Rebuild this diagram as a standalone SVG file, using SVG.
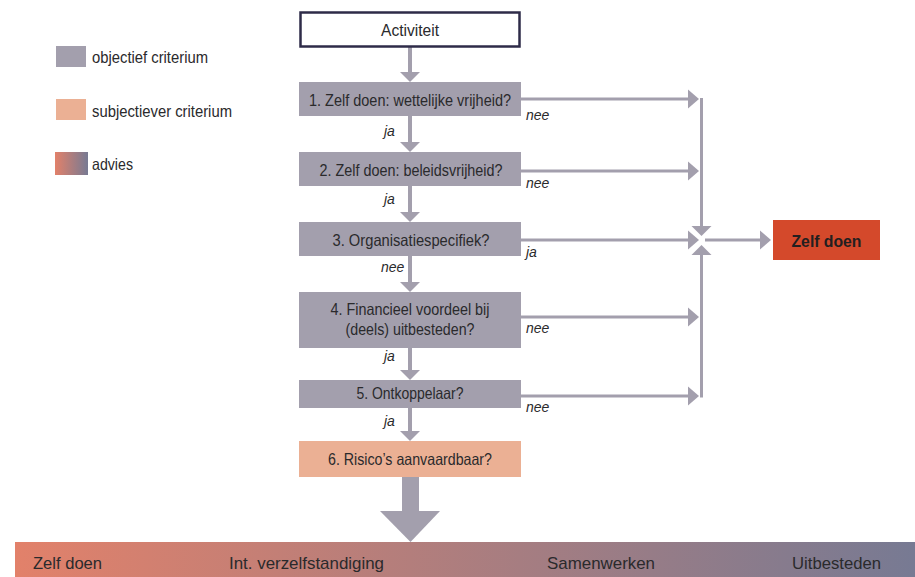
<svg xmlns="http://www.w3.org/2000/svg" width="915" height="577" viewBox="0 0 915 577">
<style>
.t{font-family:"Liberation Sans",Arial,sans-serif;font-size:16.5px;fill:#2a2a2c}
.c{text-anchor:middle}
.lb{font-family:"Liberation Sans",Arial,sans-serif;font-size:14px;font-style:italic;fill:#2a2a2c}
.obj{fill:#a39fad}
.sub{fill:#ebb094}
.ln{stroke:#a39fad;stroke-width:3;fill:none}
.sh{stroke:#a39fad;stroke-width:4;fill:none}
.ah{fill:#a39fad}
.bt{font-family:"Liberation Sans",Arial,sans-serif;font-size:17px;fill:#2a2a2c}
</style>
<defs>
<linearGradient id="adv" x1="0" y1="0" x2="1" y2="0">
<stop offset="0" stop-color="#e2816a"/>
<stop offset="1" stop-color="#777a93"/>
</linearGradient>
</defs>
<rect width="915" height="577" fill="#ffffff"/>

<g id="legend">
<rect x="56" y="46" width="30" height="21" class="obj"/>
<text x="92" y="63" class="t" textLength="116" lengthAdjust="spacingAndGlyphs">objectief criterium</text>
<rect x="56" y="99" width="30" height="21" class="sub"/>
<text x="92" y="117" class="t" textLength="140" lengthAdjust="spacingAndGlyphs">subjectiever criterium</text>
<rect x="55" y="152" width="33" height="23" fill="url(#adv)"/>
<text x="92" y="170" class="t" textLength="41" lengthAdjust="spacingAndGlyphs">advies</text>
</g>

<g id="connectors">
<line x1="410" y1="47" x2="410" y2="73" class="sh"/>
<polygon points="400,72 420,72 410,82" class="ah"/>
<line x1="410" y1="116" x2="410" y2="143" class="sh"/>
<polygon points="400,142 420,142 410,152" class="ah"/>
<line x1="410" y1="186" x2="410" y2="213" class="sh"/>
<polygon points="400,212 420,212 410,222" class="ah"/>
<line x1="410" y1="256" x2="410" y2="283" class="sh"/>
<polygon points="400,282 420,282 410,292" class="ah"/>
<line x1="410" y1="348" x2="410" y2="371" class="sh"/>
<polygon points="400,370 420,370 410,380" class="ah"/>
<line x1="410" y1="408" x2="410" y2="432" class="sh"/>
<polygon points="400,431 420,431 410,441" class="ah"/>
<rect x="402" y="477" width="17" height="35" class="ah"/>
<polygon points="380,511 440,511 410.5,542" class="ah"/>

<line x1="521" y1="99" x2="689" y2="99" class="ln"/>
<polygon points="688,89.5 688,108.5 699,99" class="ah"/>
<line x1="521" y1="171" x2="689" y2="171" class="ln"/>
<polygon points="688,161.5 688,180.5 699,171" class="ah"/>
<line x1="521" y1="240" x2="689" y2="240" class="ln"/>
<polygon points="688,230.5 688,249.5 699,240" class="ah"/>
<line x1="521" y1="317" x2="689" y2="317" class="ln"/>
<polygon points="688,307.5 688,326.5 699,317" class="ah"/>
<line x1="521" y1="396" x2="689" y2="396" class="ln"/>
<polygon points="688,386.5 688,405.5 699,396" class="ah"/>

<line x1="701.5" y1="98" x2="701.5" y2="227" class="ln"/>
<polygon points="691.5,226 711.5,226 701.5,236" class="ah"/>
<line x1="701.5" y1="397.5" x2="701.5" y2="254" class="ln"/>
<polygon points="691.5,255 711.5,255 701.5,245" class="ah"/>
<line x1="705" y1="240" x2="761" y2="240" class="ln"/>
<polygon points="760,230.5 760,249.5 771,240" class="ah"/>

<text x="526" y="120" class="lb">nee</text>
<text x="526" y="188" class="lb">nee</text>
<text x="526" y="257" class="lb">ja</text>
<text x="526" y="333" class="lb">nee</text>
<text x="526" y="412" class="lb">nee</text>
<text x="384" y="136" class="lb">ja</text>
<text x="384" y="204" class="lb">ja</text>
<text x="381" y="272" class="lb">nee</text>
<text x="384" y="361" class="lb">ja</text>
<text x="384" y="426" class="lb">ja</text>
</g>

<g id="activiteit">
<rect x="300.5" y="12.5" width="219" height="34" fill="#ffffff" stroke="#2e2b48" stroke-width="2.5"/>
<text x="410" y="36" class="t c" textLength="58" lengthAdjust="spacingAndGlyphs">Activiteit</text>
</g>

<g id="q1">
<rect x="299" y="82" width="222" height="34" class="obj"/>
<text x="410" y="106" class="t c" textLength="202" lengthAdjust="spacingAndGlyphs">1. Zelf doen: wettelijke vrijheid?</text>
</g>

<g id="q2">
<rect x="299" y="152" width="222" height="34" class="obj"/>
<text x="411" y="176" class="t c" textLength="183" lengthAdjust="spacingAndGlyphs">2. Zelf doen: beleidsvrijheid?</text>
</g>

<g id="q3">
<rect x="299" y="222" width="222" height="34" class="obj"/>
<text x="411" y="246" class="t c" textLength="157" lengthAdjust="spacingAndGlyphs">3. Organisatiespecifiek?</text>
</g>

<g id="q4">
<rect x="299" y="292" width="222" height="56" class="obj"/>
<text x="410" y="315" class="t c" textLength="159" lengthAdjust="spacingAndGlyphs">4. Financieel voordeel bij</text>
<text x="410" y="335" class="t c" textLength="129" lengthAdjust="spacingAndGlyphs">(deels) uitbesteden?</text>
</g>

<g id="q5">
<rect x="299" y="380" width="222" height="28" class="obj"/>
<text x="410" y="399" class="t c" textLength="107" lengthAdjust="spacingAndGlyphs">5. Ontkoppelaar?</text>
</g>

<g id="q6">
<rect x="299" y="441" width="222" height="36" class="sub"/>
<text x="410" y="465" class="t c" textLength="164" lengthAdjust="spacingAndGlyphs">6. Risico’s aanvaardbaar?</text>
</g>

<g id="zelfdoen">
<rect x="773" y="220" width="107" height="40" fill="#d4492b"/>
<text x="826.5" y="247" class="c" font-family="'Liberation Sans',Arial,sans-serif" font-size="17" font-weight="bold" fill="#231f20" textLength="70" lengthAdjust="spacingAndGlyphs">Zelf doen</text>
</g>

<g id="advies-schaal">
<rect x="15" y="542" width="900" height="35" fill="url(#adv)"/>
<text x="33" y="569" class="bt" textLength="69" lengthAdjust="spacingAndGlyphs">Zelf doen</text>
<text x="229" y="569" class="bt" textLength="155" lengthAdjust="spacingAndGlyphs">Int. verzelfstandiging</text>
<text x="547" y="569" class="bt" textLength="108" lengthAdjust="spacingAndGlyphs">Samenwerken</text>
<text x="792" y="569" class="bt" textLength="89" lengthAdjust="spacingAndGlyphs">Uitbesteden</text>
</g>
</svg>
